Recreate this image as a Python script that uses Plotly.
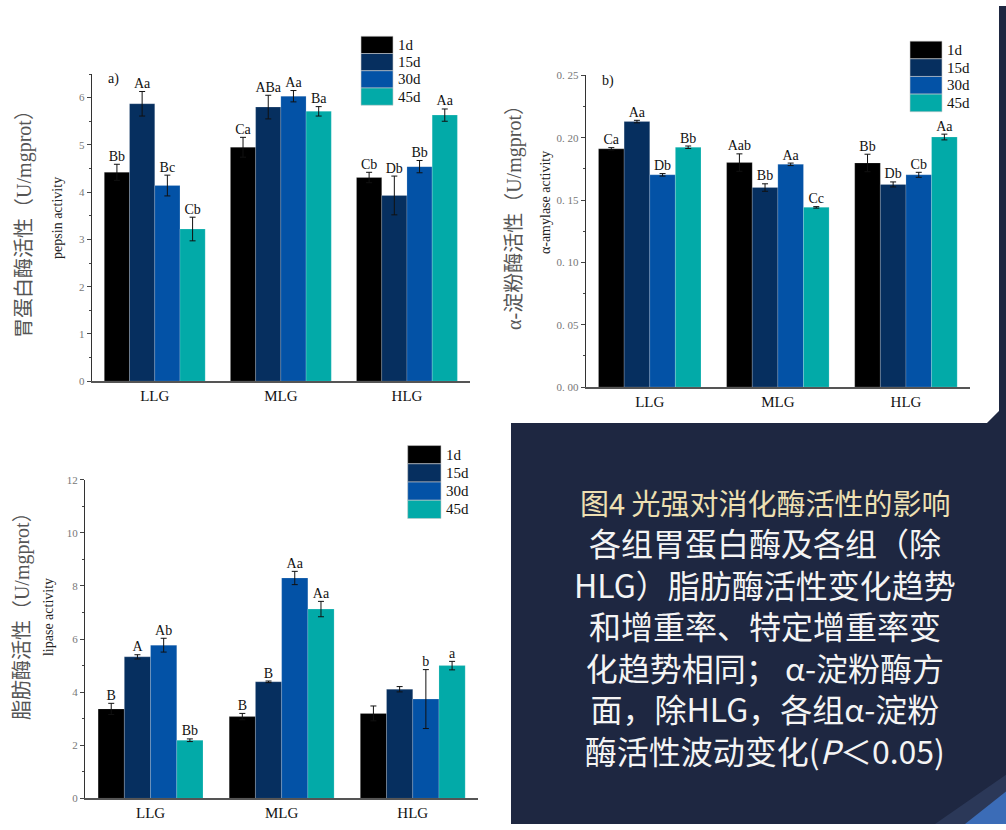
import plotly.graph_objects as go

W, H = 1006, 830

groups = ["LLG", "MLG", "HLG"]
days = ["1d", "15d", "30d", "45d"]
colors = ["#000000", "#062f5f", "#0352a6", "#02aaa8"]

# rows = days (1d, 15d, 30d, 45d); columns = groups (LLG, MLG, HLG)
pepsin_mean = [[4.42, 4.95, 4.31], [5.87, 5.80, 3.93], [4.14, 6.03, 4.54], [3.22, 5.71, 5.63]]
pepsin_err = [[0.17, 0.21, 0.11], [0.26, 0.25, 0.41], [0.22, 0.12, 0.13], [0.25, 0.10, 0.13]]
pepsin_lab = [["Bb", "Ca", "Cb"], ["Aa", "ABa", "Db"], ["Bc", "Aa", "Bb"], ["Cb", "Ba", "Aa"]]

amylase_mean = [[0.191, 0.180, 0.1797], [0.2129, 0.160, 0.1625], [0.1702, 0.1786, 0.1702], [0.1923, 0.1441, 0.2005]]
amylase_err = [[0.001, 0.007, 0.007], [0.001, 0.003, 0.002], [0.001, 0.001, 0.002], [0.001, 0.0006, 0.0023]]
amylase_lab = [["Ca", "Aab", "Bb"], ["Aa", "Bb", "Db"], ["Db", "Aa", "Cb"], ["Bb", "Cc", "Aa"]]

lipase_mean = [[3.37, 3.08, 3.20], [5.33, 4.39, 4.11], [5.77, 8.30, 3.74], [2.19, 7.13, 5.00]]
lipase_err = [[0.21, 0.12, 0.28], [0.08, 0.03, 0.10], [0.26, 0.25, 1.11], [0.05, 0.29, 0.16]]
lipase_lab = [["B", "B", ""], ["A", "B", ""], ["Ab", "Aa", "b"], ["Bb", "Aa", "a"]]

amylase_ticks = [0, 0.05, 0.10, 0.15, 0.20, 0.25]
amylase_ticktext = ["0. 00", "0. 05", "0. 10", "0. 15", "0. 20", "0. 25"]

caption_title = "图4 光强对消化酶活性的影响"
caption_lines = [
    "各组胃蛋白酶及各组（除",
    "HLG）脂肪酶活性变化趋势",
    "和增重率、特定增重率变",
    "化趋势相同； α-淀粉酶方",
    "面，除HLG，各组α-淀粉",
    "酶活性波动变化(<i>P</i>＜0.05)",
]

SERIF = "Liberation Serif, Times New Roman, serif"
CJK = "Liberation Serif, Noto Sans CJK SC"
SANS_CJK = "Noto Sans CJK SC"


def px(x):
    return x / W


def py(y):
    return 1 - y / H


fig = go.Figure()

BW = 0.2


def add_chart(idx, means, errs, labs):
    xa = "x" if idx == 1 else f"x{idx}"
    ya = "y" if idx == 1 else f"y{idx}"
    for k, d in enumerate(days):
        xs = [g + (k - 1.5) * BW for g in range(len(groups))]
        fig.add_trace(go.Bar(
            x=xs, y=means[k], width=BW, name=d, xaxis=xa, yaxis=ya,
            marker=dict(color=colors[k], line=dict(color="rgba(255,255,255,0.35)", width=0.5)),
            error_y=dict(type="data", array=errs[k], color="#111", thickness=1, width=3),
            showlegend=False,
        ))
        fig.add_trace(go.Scatter(
            x=xs, y=[m + e for m, e in zip(means[k], errs[k])], text=labs[k],
            mode="text", textposition="top center", xaxis=xa, yaxis=ya,
            textfont=dict(family=SERIF, size=14, color="#111"),
            showlegend=False, cliponaxis=False, hoverinfo="skip",
        ))


add_chart(1, pepsin_mean, pepsin_err, pepsin_lab)
add_chart(2, amylase_mean, amylase_err, amylase_lab)
add_chart(3, lipase_mean, lipase_err, lipase_lab)

xcommon = dict(range=[-0.5, 2.5], tickvals=[0, 1, 2], ticktext=groups, showline=True,
               linecolor="#555", linewidth=1.5, ticks="", showgrid=False, zeroline=False,
               tickfont=dict(family=SERIF, size=15, color="#111"), fixedrange=True)
ycommon = dict(showline=True, linecolor="#333", linewidth=1, ticks="outside", ticklen=4,
               tickcolor="#444", showgrid=False, zeroline=False,
               tickfont=dict(family=SERIF, size=11, color="#777"), fixedrange=True)

fig.update_layout(
    width=W, height=H, margin=dict(l=0, r=0, t=0, b=0),
    paper_bgcolor="white", plot_bgcolor="rgba(0,0,0,0)", barmode="overlay",
    xaxis=dict(domain=[px(91.7), px(470)], anchor="y", **xcommon),
    yaxis=dict(domain=[py(380.7), py(69)], anchor="x", range=[0, 6.5], tick0=0, dtick=1,
               minor=dict(ticks="outside", ticklen=2, dtick=0.5, tickcolor="#444"), **ycommon),
    xaxis2=dict(domain=[px(585.7), px(970)], anchor="y2", **xcommon),
    yaxis2=dict(domain=[py(386.7), py(70.3)], anchor="x2", range=[0, 0.25],
                tickvals=amylase_ticks, ticktext=amylase_ticktext,
                minor=dict(ticks="outside", ticklen=2, dtick=0.025, tickcolor="#444"), **ycommon),
    xaxis3=dict(domain=[px(85), px(478.3)], anchor="y3", **xcommon),
    yaxis3=dict(domain=[py(804), py(480.7)], anchor="x3", range=[0, 12], tick0=0, dtick=2,
                minor=dict(ticks="outside", ticklen=2, dtick=1, tickcolor="#444"), **ycommon),
)

shapes = []
# dark slide panel
pts = [(511, 423), (987, 423), (999, 411), (999, 0), (1006, 0), (1006, 830), (511, 830)]
path = "M " + " L ".join(f"{px(x):.5f},{py(y):.5f}" for x, y in pts) + " Z"
shapes.append(dict(type="path", path=path, xref="paper", yref="paper", fillcolor="#1e2741",
                   line=dict(width=0), layer="below"))
# corner decoration
for poly, col in [([(935, 830), (1006, 780), (1006, 830)], "#2b3858"),
                  ([(965, 830), (1006, 797), (1006, 830)], "#3b6cb7")]:
    p = "M " + " L ".join(f"{px(x):.5f},{py(y):.5f}" for x, y in poly) + " Z"
    shapes.append(dict(type="path", path=p, xref="paper", yref="paper", fillcolor=col,
                       line=dict(width=0), layer="below"))

annotations = []


def add_legend(x0, x1, ytop, h):
    for k, d in enumerate(days):
        y0 = ytop + k * h
        shapes.append(dict(type="rect", xref="paper", yref="paper", x0=px(x0), x1=px(x1),
                           y0=py(y0 + h), y1=py(y0), fillcolor=colors[k],
                           line=dict(color="rgba(200,200,200,0.6)", width=1)))
        annotations.append(dict(xref="paper", yref="paper", x=px(x1 + 3), y=py(y0 + h / 2),
                                text=d, showarrow=False, xanchor="left", yanchor="middle",
                                font=dict(family=SERIF, size=15, color="#111")))


add_legend(361, 393, 30.7, 17.5)
add_legend(910, 942, 35.7, 17.9)
add_legend(407.7, 441, 446, 18.5)


def add_text(x, y, text, size, family, color="#111", angle=0, xanchor="center"):
    annotations.append(dict(xref="paper", yref="paper", x=px(x), y=py(y), text=text,
                            showarrow=False, xanchor=xanchor, yanchor="middle", textangle=angle,
                            align="center", font=dict(family=family, size=size, color=color)))


add_text(113, 74, "a)", 14, SERIF)
add_text(608, 76, "b)", 14, SERIF)

add_text(25, 216, "胃蛋白酶活性（U/mgprot）", 20, CJK, "#555", -90)
add_text(58, 215, "pepsin activity", 14, SERIF, "#222", -90)
add_text(515, 210, "α-淀粉酶活性（U/mgprot）", 20, CJK, "#555", -90)
add_text(545, 200, "α-amylase activity", 14, SERIF, "#222", -90)
add_text(22, 614, "脂肪酶活性（U/mgprot）", 20, CJK, "#555", -90)
add_text(48, 620, "lipase activity", 14, SERIF, "#222", -90)

# caption block on the dark panel
add_text(765, 503, caption_title, 29, SANS_CJK, "#eee0b2")
# body lines as one multi-line block (line pitch 1.3 em ~ 41.6 px)
add_text(765, 649, "<br>".join(caption_lines), 32, SANS_CJK, "#f4f4f4")

fig.update_layout(shapes=shapes, annotations=annotations)
fig.write_html("out.html")
